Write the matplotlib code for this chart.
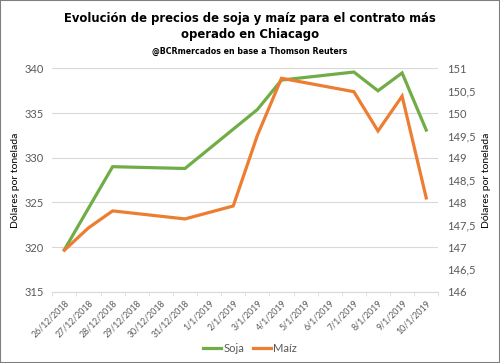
import numpy as np
import pandas as pd
import matplotlib.pyplot as plt
from matplotlib.patches import Rectangle

fechas = ['26/12/2018', '27/12/2018', '28/12/2018', '29/12/2018', '30/12/2018',
          '31/12/2018', '1/1/2019', '2/1/2019', '3/1/2019', '4/1/2019',
          '5/1/2019', '6/1/2019', '7/1/2019', '8/1/2019', '9/1/2019', '10/1/2019']
soja = [319.7, np.nan, 329.0, np.nan, np.nan, 328.8, np.nan, 333.2, 335.4, 338.7,
        np.nan, np.nan, 339.6, 337.5, 339.5, 333.1]
maiz = [146.93, 147.43, 147.81, np.nan, np.nan, 147.63, np.nan, 147.92, 149.5, 150.78,
        np.nan, np.nan, 150.48, 149.6, 150.38, 148.1]

VERDE = '#70AD47'
NARANJA = '#ED7D31'
GRIS = '#595959'

plt.rcParams['font.family'] = ['Lato', 'DejaVu Sans']

df = pd.DataFrame({'soja': soja, 'maiz': maiz}, index=range(len(fechas)))
s = df['soja'].dropna()
m = df['maiz'].dropna()

fig = plt.figure(figsize=(5, 3.63), dpi=100)
ax = fig.add_axes([0.1046, 0.1964, 0.772, 0.615])
ax2 = ax.twinx()

l1, = ax.plot(s.index, s.values, color=VERDE, lw=2.3, solid_joinstyle='miter', label='Soja', zorder=3)
l2, = ax2.plot(m.index, m.values, color=NARANJA, lw=2.3, solid_joinstyle='miter', label='Maíz', zorder=3)

ax.set_xlim(-0.5, len(fechas) - 0.5)
ax.set_ylim(315, 340)
ax2.set_ylim(146, 151)
ax.set_yticks(np.arange(315, 341, 5))
r_ticks = np.arange(146, 151.01, 0.5)
ax2.set_yticks(r_ticks)
ax2.set_yticklabels([f'{t:g}'.replace('.', ',') for t in r_ticks])

ax.grid(axis='y', color='#d9d9d9', lw=0.8)
ax.set_axisbelow(True)
for a in (ax, ax2):
    for sp in a.spines.values():
        sp.set_visible(False)
    a.tick_params(axis='y', length=0, labelsize=8, labelcolor=GRIS, pad=6)
ax.spines['bottom'].set_visible(True)
ax.spines['bottom'].set_color('#d9d9d9')

ax.set_xticks(range(len(fechas)))
ax.set_xticklabels(fechas, rotation=45, ha='right', rotation_mode='anchor', fontsize=6.3, color=GRIS)
ax.tick_params(axis='x', which='major', length=0, pad=5)
ax.set_xticks(np.arange(-0.5, len(fechas), 1), minor=True)
ax.tick_params(axis='x', which='minor', length=3, color='#d9d9d9')

ax.set_ylabel('Dólares por tonelada', fontsize=7.5, labelpad=3)
ax2.set_ylabel('Dólares por tonelada', fontsize=7.5, labelpad=5)

fig.text(0.5, 0.928, 'Evolución de precios de soja y maíz para el contrato más\noperado en Chiacago',
         ha='center', va='center', fontsize=9.3, fontweight='heavy', family='DejaVu Sans',
         fontstretch='condensed', linespacing=1.3)
fig.text(0.5, 0.858, '@BCRmercados en base a Thomson Reuters', ha='center', va='center',
         fontsize=6.3, fontweight='bold', family='DejaVu Sans', fontstretch='condensed')

fig.legend(handles=[l1, l2], loc='center', bbox_to_anchor=(0.5, 0.04), ncol=2, frameon=False,
           fontsize=8, handlelength=1.6, handletextpad=0.2, columnspacing=0.8,
           labelcolor=GRIS)

fig.patches.append(Rectangle((0, 0), 1, 1, transform=fig.transFigure, fill=False,
                             edgecolor='#7f7f7f', lw=1.5))

fig.savefig('out.png', dpi=100)
